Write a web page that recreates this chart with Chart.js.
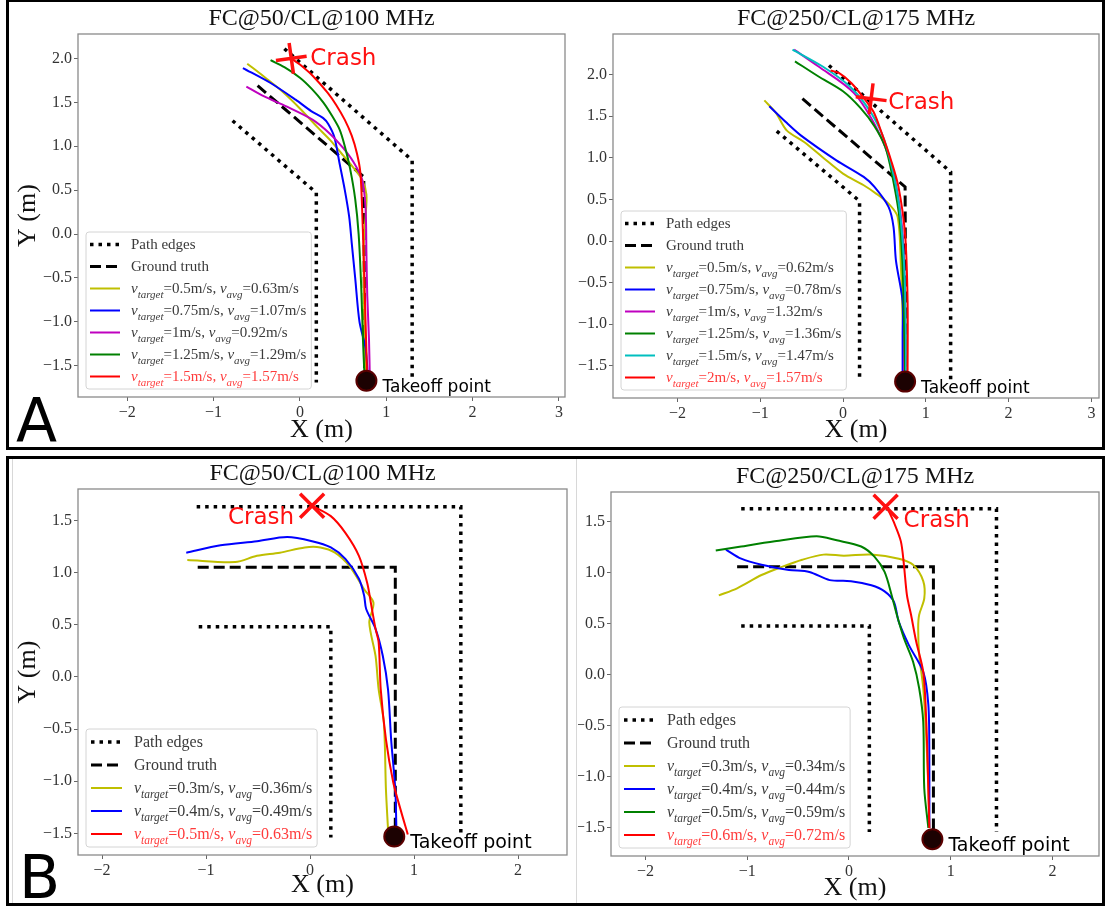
<!DOCTYPE html>
<html>
<head>
<meta charset="utf-8">
<script src="https://cdn.jsdelivr.net/npm/chart.js@4.4.0/dist/chart.umd.min.js"></script>
<style>
  body { margin: 0; background: #fff; width: 1105px; height: 909px; position: relative; overflow: hidden; }
  .frame { position: absolute; border: 3px solid #000; box-sizing: border-box; }
  .plot { position: absolute; }
  .letter { position: absolute; font: 60px "DejaVu Sans", sans-serif; line-height: 1; color: #000; }
  .sep { position: absolute; width: 1px; background: #d8d8d8; }
</style>
</head>
<body>
<div class="frame" style="left:6px;top:-1px;width:1099px;height:451px"></div>
<div class="frame" style="left:6px;top:456px;width:1099px;height:450px"></div>
<div class="sep" style="left:576px;top:459px;height:444px"></div>
<div class="sep" style="left:12px;top:459px;height:444px"></div>

<div class="plot" style="left:10px;top:3px;width:560px;height:445px"><canvas id="aLeft"></canvas></div>
<div class="plot" style="left:578px;top:3px;width:524px;height:445px"><canvas id="aRight"></canvas></div>
<div class="plot" style="left:10px;top:460px;width:565px;height:445px"><canvas id="bLeft"></canvas></div>
<div class="plot" style="left:578px;top:460px;width:524px;height:445px"><canvas id="bRight"></canvas></div>

<div class="letter" style="left:16px;top:390px">A</div>
<div class="letter" style="left:19px;top:847px">B</div>

<script>
// ---------- panel A, left: FC@50/CL@100 MHz ----------
const aLeftXTicks = [-2, -1, 0, 1, 2, 3];
const aLeftYTicks = [-1.5, -1, -0.5, 0, 0.5, 1, 1.5, 2];
const aLeftEdgeInner = [[-0.78, 1.29], [0.19, 0.47], [0.19, -1.69]];
const aLeftEdgeOuter = [[-0.18, 2.11], [1.30, 0.84], [1.30, -1.67]];
const aLeftTruth = [[-0.49, 1.69], [0.74, 0.65], [0.75, -1.68]];
const aLeftTargets = ['0.5', '0.75', '1', '1.25', '1.5'];
const aLeftAvgs = ['0.63', '1.07', '0.92', '1.29', '1.57'];
const aLeftRun1 = [[0.76, -1.66], [0.75, -1.2], [0.74, -0.6], [0.74, -0.1], [0.76, 0.2], [0.77, 0.45], [0.72, 0.62], [0.6, 0.78], [0.48, 0.92], [0.35, 1.07], [0.2, 1.22], [0.0, 1.43], [-0.2, 1.62], [-0.4, 1.78], [-0.61, 1.94]];
const aLeftRun2 = [[0.79, -1.66], [0.76, -1.3], [0.69, -1.0], [0.64, -0.5], [0.6, -0.1], [0.57, 0.2], [0.52, 0.5], [0.46, 0.8], [0.4, 1.1], [0.33, 1.25], [0.27, 1.32], [0.13, 1.4], [-0.05, 1.53], [-0.34, 1.72], [-0.66, 1.89]];
const aLeftRun3 = [[0.81, -1.66], [0.8, -1.2], [0.78, -0.7], [0.77, -0.2], [0.76, 0.3], [0.72, 0.62], [0.62, 0.82], [0.5, 0.98], [0.35, 1.14], [0.15, 1.3], [-0.15, 1.45], [-0.42, 1.57], [-0.62, 1.68]];
const aLeftRun4 = [[0.75, -1.66], [0.73, -1.2], [0.71, -0.6], [0.68, 0.0], [0.64, 0.4], [0.58, 0.75], [0.52, 1.0], [0.46, 1.19], [0.37, 1.35], [0.27, 1.5], [0.14, 1.65], [0.0, 1.78], [-0.18, 1.9], [-0.34, 1.98]];
const aLeftRun5 = [[0.78, -1.66], [0.76, -1.0], [0.74, -0.3], [0.72, 0.3], [0.7, 0.7], [0.66, 0.92], [0.6, 1.12], [0.52, 1.3], [0.42, 1.47], [0.32, 1.61], [0.15, 1.8], [0.0, 1.93], [-0.1, 2.0]];
const aLeftCrash = [-0.1, 2.0];
const aLeftTakeoff = [0.77, -1.67];

// ---------- panel A, right: FC@250/CL@175 MHz ----------
const aRightXTicks = [-2, -1, 0, 1, 2, 3];
const aRightYTicks = [-1.5, -1, -0.5, 0, 0.5, 1, 1.5, 2];
const aRightEdgeInner = [[-0.80, 1.32], [0.20, 0.48], [0.20, -1.69]];
const aRightEdgeOuter = [[-0.17, 2.11], [1.30, 0.83], [1.30, -1.67]];
const aRightTruth = [[-0.49, 1.71], [0.75, 0.65], [0.76, -1.69]];
const aRightTargets = ['0.5', '0.75', '1', '1.25', '1.5', '2'];
const aRightAvgs = ['0.62', '0.78', '1.32', '1.36', '1.47', '1.57'];
const aRightRun1 = [[0.74, -1.61], [0.72, -0.92], [0.70, -0.32], [0.66, 0.29], [0.55, 0.45], [0.40, 0.57], [0.25, 0.67], [0.00, 0.81], [-0.25, 1.01], [-0.47, 1.19], [-0.68, 1.33], [-0.81, 1.54], [-0.95, 1.69]];
const aRightRun2 = [[0.72, -1.61], [0.72, -1.12], [0.72, -0.72], [0.64, -0.24], [0.61, 0.17], [0.55, 0.41], [0.38, 0.65], [0.25, 0.77], [-0.08, 0.97], [-0.51, 1.27], [-0.68, 1.42], [-0.89, 1.62]];
const aRightRun3 = [[0.74, -1.61], [0.74, -1.12], [0.74, -0.32], [0.70, 0.29], [0.59, 0.89], [0.42, 1.33], [0.13, 1.78], [-0.30, 2.10], [-0.59, 2.30]];
const aRightRun4 = [[0.75, -1.61], [0.74, -1.12], [0.72, -0.32], [0.68, 0.29], [0.59, 0.81], [0.51, 1.13], [0.38, 1.38], [0.21, 1.60], [0.00, 1.80], [-0.30, 1.98], [-0.58, 2.16]];
const aRightRun5 = [[0.76, -1.61], [0.76, -1.12], [0.74, -0.32], [0.68, 0.41], [0.59, 0.89], [0.47, 1.29], [0.30, 1.60], [0.08, 1.86], [-0.25, 2.10], [-0.61, 2.30]];
const aRightRun6 = [[0.78, -1.61], [0.78, -0.72], [0.75, 0.08], [0.67, 0.65], [0.58, 0.97], [0.47, 1.29], [0.37, 1.55], [0.25, 1.72], [0.10, 1.90], [-0.05, 2.02], [-0.15, 2.05]];
const aRightCrash = [0.34, 1.71];
const aRightTakeoff = [0.75, -1.69];

// ---------- panel B, left: FC@50/CL@100 MHz ----------
const bLeftXTicks = [-2, -1, 0, 1, 2];
const bLeftYTicks = [-1.5, -1, -0.5, 0, 0.5, 1, 1.5];
const bLeftEdgeOuter = [[-1.09, 1.63], [1.45, 1.63], [1.45, -1.50]];
const bLeftEdgeInner = [[-1.07, 0.48], [0.20, 0.48], [0.20, -1.54]];
const bLeftTruth = [[-1.08, 1.05], [0.82, 1.05], [0.82, -1.50]];
const bLeftTargets = ['0.3', '0.4', '0.5'];
const bLeftAvgs = ['0.36', '0.49', '0.63'];
const bLeftRun1 = [[0.75, -1.46], [0.73, -1.08], [0.71, -0.44], [0.66, -0.12], [0.63, 0.20], [0.57, 0.52], [0.61, 0.71], [0.52, 0.84], [0.38, 1.06], [0.24, 1.19], [0.10, 1.24], [-0.05, 1.24], [-0.29, 1.19], [-0.51, 1.16], [-0.72, 1.10], [-1.18, 1.12]];
const bLeftRun2 = [[0.83, -1.43], [0.82, -1.08], [0.78, -0.60], [0.75, -0.12], [0.70, 0.20], [0.63, 0.46], [0.54, 0.65], [0.52, 0.78], [0.47, 0.94], [0.34, 1.13], [0.20, 1.24], [0.02, 1.30], [-0.22, 1.34], [-0.51, 1.30], [-0.86, 1.26], [-1.19, 1.19]];
const bLeftRun3 = [[0.94, -1.51], [0.87, -1.27], [0.80, -1.01], [0.73, -0.60], [0.68, -0.12], [0.66, 0.33], [0.63, 0.46], [0.59, 0.68], [0.55, 0.90], [0.47, 1.16], [0.34, 1.38], [0.20, 1.54], [0.02, 1.64]];
const bLeftCrash = [0.02, 1.64];
const bLeftTakeoff = [0.81, -1.53];

// ---------- panel B, right: FC@250/CL@175 MHz ----------
const bRightXTicks = [-2, -1, 0, 1, 2];
const bRightYTicks = [-1.5, -1, -0.5, 0, 0.5, 1, 1.5];
const bRightEdgeOuter = [[-1.06, 1.63], [1.45, 1.63], [1.45, -1.54]];
const bRightEdgeInner = [[-1.06, 0.48], [0.20, 0.48], [0.20, -1.54]];
const bRightTruth = [[-1.10, 1.06], [0.83, 1.06], [0.83, -1.55]];
const bRightTargets = ['0.3', '0.4', '0.5', '0.6'];
const bRightAvgs = ['0.34', '0.44', '0.59', '0.72'];
const bRightRun1 = [[0.79, -1.50], [0.78, -1.11], [0.76, -0.62], [0.73, -0.13], [0.69, 0.20], [0.68, 0.46], [0.69, 0.59], [0.74, 0.75], [0.73, 0.92], [0.63, 1.08], [0.49, 1.14], [0.22, 1.18], [-0.05, 1.17], [-0.25, 1.18], [-0.46, 1.13], [-0.66, 1.06], [-0.86, 0.98], [-1.10, 0.85], [-1.28, 0.78]];
const bRightRun2 = [[0.79, -1.50], [0.79, -0.78], [0.78, -0.29], [0.73, 0.03], [0.59, 0.29], [0.49, 0.52], [0.44, 0.72], [0.35, 0.82], [0.22, 0.88], [0.02, 0.92], [-0.19, 0.93], [-0.39, 1.01], [-0.59, 1.03], [-0.86, 1.08], [-1.06, 1.14], [-1.21, 1.23]];
const bRightRun3 = [[0.78, -1.50], [0.74, -1.11], [0.73, -0.46], [0.69, -0.13], [0.63, 0.13], [0.54, 0.36], [0.47, 0.59], [0.42, 0.78], [0.35, 1.01], [0.25, 1.16], [0.12, 1.26], [-0.12, 1.32], [-0.32, 1.36], [-0.73, 1.31], [-1.06, 1.26], [-1.31, 1.22]];
const bRightRun4 = [[0.79, -1.50], [0.78, -1.11], [0.76, -0.46], [0.73, 0.03], [0.66, 0.33], [0.61, 0.59], [0.57, 0.78], [0.54, 1.08], [0.51, 1.31], [0.44, 1.50], [0.38, 1.63]];
const bRightCrash = [0.36, 1.65];
const bRightTakeoff = [0.82, -1.61];

const SERIF = '"Liberation Serif", "DejaVu Serif", serif';
const SANS = '"DejaVu Sans", sans-serif';

function pts(list) { return list.map(p => ({ x: p[0], y: p[1] })); }
function joinPaths(a, b) { return pts(a).concat([{ x: null, y: null }], pts(b)); }
function fmt(v, dec) {
  const s = Math.abs(v).toFixed(dec);
  return (v < 0 ? '\u2212' : '') + s;
}

// grey box round the plot area, like matplotlib spines
const frameBox = {
  id: 'frameBox',
  afterDraw(chart) {
    const { ctx, chartArea: a } = chart;
    ctx.save();
    ctx.strokeStyle = '#8a8a8a';
    ctx.lineWidth = 1.3;
    ctx.strokeRect(a.left, a.top, a.right - a.left, a.bottom - a.top);
    ctx.restore();
  }
};

// title centred over the plot area
const areaTitle = {
  id: 'areaTitle',
  afterDraw(chart, args, opts) {
    const { ctx, chartArea: a } = chart;
    ctx.save();
    ctx.font = '24px ' + SERIF;
    ctx.fillStyle = '#111';
    ctx.textAlign = 'center';
    ctx.textBaseline = 'middle';
    ctx.fillText(opts.text, (a.left + a.right) / 2, a.top - opts.gap);
    ctx.restore();
  }
};

// "Crash" / "Takeoff point" notes next to the marker points
const pointNotes = {
  id: 'pointNotes',
  afterDatasetsDraw(chart) {
    const ctx = chart.ctx;
    chart.data.datasets.forEach((ds, i) => {
      if (!ds.note) return;
      const el = chart.getDatasetMeta(i).data[0];
      ctx.save();
      ctx.font = ds.note.size + 'px ' + SANS;
      ctx.fillStyle = ds.note.color;
      ctx.textAlign = ds.note.align;
      ctx.textBaseline = 'middle';
      ctx.fillText(ds.note.text, el.x + ds.note.dx, el.y + ds.note.dy);
      ctx.restore();
    });
  }
};

function rowParts(d, fs, ss) {
  const rm = fs + 'px ' + SERIF;
  if (d.vt === undefined) return [{ t: d.label, font: rm, dy: 0 }];
  const it = 'italic ' + fs + 'px ' + SERIF;
  const sub = 'italic ' + ss + 'px ' + SERIF;
  const low = fs * 0.3;
  return [
    { t: 'v', font: it, dy: 0 }, { t: 'target', font: sub, dy: low },
    { t: '=' + d.vt + 'm/s, ', font: rm, dy: 0 },
    { t: 'v', font: it, dy: 0 }, { t: 'avg', font: sub, dy: low },
    { t: '=' + d.va + 'm/s', font: rm, dy: 0 }
  ];
}

// legend box in the lower-left corner of the plot area
const boxLegend = {
  id: 'boxLegend',
  afterDatasetsDraw(chart, args, o) {
    const { ctx, chartArea: a } = chart;
    const rows = chart.data.datasets.filter(d => d.label);
    ctx.save();
    const widths = rows.map(d => rowParts(d, o.fontSize, o.subSize).reduce((w, p) => {
      ctx.font = p.font; return w + ctx.measureText(p.t).width;
    }, 0));
    const w = o.textX + Math.max(...widths) + o.padR;
    const h = rows.length * o.rowH + 3;
    const x0 = a.left + o.gap, y0 = a.bottom - o.gap - h;
    ctx.fillStyle = 'rgba(255,255,255,0.9)';
    ctx.strokeStyle = '#d4d4d4';
    ctx.lineWidth = 1;
    ctx.beginPath();
    ctx.roundRect(x0, y0, w, h, 3);
    ctx.fill();
    ctx.stroke();
    rows.forEach((d, k) => {
      const cy = y0 + 1.5 + o.rowH * (k + 0.5);
      ctx.save();
      ctx.setLineDash(d.borderDash || []);
      ctx.lineCap = 'butt';
      ctx.lineWidth = d.borderWidth;
      ctx.strokeStyle = d.borderColor;
      ctx.beginPath();
      ctx.moveTo(x0 + o.lineX0, cy);
      ctx.lineTo(x0 + o.lineX1, cy);
      ctx.stroke();
      ctx.restore();
      let x = x0 + o.textX;
      ctx.fillStyle = d.textColor || '#3a3a3a';
      ctx.textBaseline = 'alphabetic';
      ctx.textAlign = 'left';
      rowParts(d, o.fontSize, o.subSize).forEach(p => {
        ctx.font = p.font;
        ctx.fillText(p.t, x, cy + o.fontSize * 0.33 + p.dy);
        x += ctx.measureText(p.t).width;
      });
    });
    ctx.restore();
  }
};

function makeChart(id, s) {
  const datasets = [];
  datasets.push({
    label: 'Path edges', data: joinPaths(s.edges[0], s.edges[1]), showLine: true, spanGaps: false,
    borderColor: '#000', borderWidth: 3.5, borderDash: [3.5, 5], borderCapStyle: 'butt',
    pointRadius: 0, tension: 0, order: 30
  });
  datasets.push({
    label: 'Ground truth', data: pts(s.truth), showLine: true,
    borderColor: '#000', borderWidth: 3, borderDash: [11, 5], borderCapStyle: 'butt',
    pointRadius: 0, tension: 0, order: 29
  });
  s.runs.forEach((run, k) => {
    datasets.push({
      label: 'run', vt: s.targets[k], va: s.avgs[k],
      textColor: k === s.runs.length - 1 ? '#ff3b3b' : '#3a3a3a',
      data: pts(run), showLine: true, borderColor: s.colors[k], borderWidth: 2,
      pointRadius: 0, tension: 0.3, order: 20 - k
    });
  });
  datasets.push({
    data: pts([s.crash]), showLine: false, pointStyle: s.crashStyle, pointRadius: s.crashR,
    pointRotation: s.crashRot, pointBorderWidth: 3.5, pointBorderColor: '#ff1010',
    pointBackgroundColor: '#ff1010', order: 1,
    note: { text: 'Crash', size: 23, color: '#ff1010', dx: s.crashDx, dy: s.crashDy, align: s.crashAlign }
  });
  datasets.push({
    data: pts([s.takeoff]), showLine: false, pointStyle: 'circle', pointRadius: 10,
    pointBorderWidth: 2, pointBorderColor: '#5a0000', pointBackgroundColor: '#1c0202', order: 0,
    note: { text: 'Takeoff point', size: s.takeoffSize, color: '#000', dx: 16, dy: 7, align: 'left' }
  });

  new Chart(document.getElementById(id), {
    type: 'scatter',
    data: { datasets },
    plugins: [frameBox, areaTitle, boxLegend, pointNotes],
    options: {
      responsive: true, maintainAspectRatio: false, animation: false, events: [],
      layout: { autoPadding: false, padding: { left: 0, right: s.padRight, top: s.padTop, bottom: 0 } },
      plugins: {
        legend: { display: false },
        tooltip: { enabled: false },
        areaTitle: { text: s.title, gap: s.titleGap },
        boxLegend: s.legend
      },
      scales: {
        x: {
          type: 'linear', min: s.xRange[0], max: s.xRange[1],
          afterBuildTicks: sc => { sc.ticks = s.xTicks.map(v => ({ value: v })); },
          afterFit: sc => { sc.height = s.xAxisH; sc.paddingLeft = 0; sc.paddingRight = 0; },
          grid: { drawOnChartArea: false, drawTicks: true, tickLength: 4, color: '#666' },
          border: { display: false },
          ticks: { autoSkip: false, maxRotation: 0, padding: 2, color: '#333',
            font: { family: SERIF, size: 16 }, callback: v => fmt(v, 0) },
          title: { display: true, text: 'X (m)', color: '#111',
            font: { family: SERIF, size: 26, lineHeight: 1 }, padding: { top: 0, bottom: s.xTitlePad } }
        },
        y: {
          type: 'linear', min: s.yRange[0], max: s.yRange[1],
          afterBuildTicks: sc => { sc.ticks = s.yTicks.map(v => ({ value: v })); },
          afterFit: sc => { sc.width = s.yAxisW; },
          grid: { drawOnChartArea: false, drawTicks: true, tickLength: 4, color: '#666' },
          border: { display: false },
          ticks: { autoSkip: false, padding: 2, color: '#333',
            font: { family: SERIF, size: 16 }, callback: v => fmt(v, 1) },
          title: { display: s.yTitle, text: 'Y (m)', color: '#111',
            font: { family: SERIF, size: 26, lineHeight: 1 }, padding: { top: 5, bottom: 0 } }
        }
      }
    }
  });
}

const colorsA = ['#bfbf00', '#0000ff', '#bf00bf', '#008000', '#00bfbf', '#ff0000'];
const legendA = { fontSize: 15, subSize: 11, rowH: 22, gap: 8, lineX0: 4, lineX1: 34, textX: 45, padR: 5 };
const legendB = { fontSize: 16, subSize: 11.5, rowH: 23, gap: 8, lineX0: 5, lineX1: 36, textX: 48, padR: 5 };

makeChart('aLeft', {
  title: 'FC@50/CL@100 MHz', titleGap: 15, padTop: 31, padRight: 5, yAxisW: 68, xAxisH: 51, xTitlePad: 5, yTitle: true,
  xRange: [-2.57, 3.07], yRange: [-1.856, 2.278], xTicks: aLeftXTicks, yTicks: aLeftYTicks,
  edges: [aLeftEdgeInner, aLeftEdgeOuter], truth: aLeftTruth,
  runs: [aLeftRun1, aLeftRun2, aLeftRun3, aLeftRun4, aLeftRun5], targets: aLeftTargets, avgs: aLeftAvgs,
  colors: ['#bfbf00', '#0000ff', '#bf00bf', '#008000', '#ff0000'],
  crash: aLeftCrash, crashStyle: 'cross', crashR: 15.5, crashRot: -8, crashDx: 19, crashDy: 1, crashAlign: 'left',
  takeoff: aLeftTakeoff, takeoffSize: 17, legend: legendA
});

makeChart('aRight', {
  title: 'FC@250/CL@175 MHz', titleGap: 15, padTop: 31, padRight: 3, yAxisW: 35, xAxisH: 50, xTitlePad: 5, yTitle: false,
  xRange: [-2.778, 3.092], yRange: [-1.887, 2.488], xTicks: aRightXTicks, yTicks: aRightYTicks,
  edges: [aRightEdgeInner, aRightEdgeOuter], truth: aRightTruth,
  runs: [aRightRun1, aRightRun2, aRightRun3, aRightRun4, aRightRun5, aRightRun6], targets: aRightTargets, avgs: aRightAvgs,
  colors: colorsA,
  crash: aRightCrash, crashStyle: 'cross', crashR: 15.5, crashRot: 7, crashDx: 17, crashDy: 4, crashAlign: 'left',
  takeoff: aRightTakeoff, takeoffSize: 17, legend: legendA
});

makeChart('bLeft', {
  title: 'FC@50/CL@100 MHz', titleGap: 15, padTop: 29, padRight: 8, yAxisW: 68, xAxisH: 50, xTitlePad: 7, yTitle: true,
  xRange: [-2.231, 2.471], yRange: [-1.707, 1.80], xTicks: bLeftXTicks, yTicks: bLeftYTicks,
  edges: [bLeftEdgeOuter, bLeftEdgeInner], truth: bLeftTruth,
  runs: [bLeftRun1, bLeftRun2, bLeftRun3], targets: bLeftTargets, avgs: bLeftAvgs,
  colors: ['#bfbf00', '#0000ff', '#ff0000'],
  crash: bLeftCrash, crashStyle: 'crossRot', crashR: 17, crashRot: 0, crashDx: -18, crashDy: 12, crashAlign: 'right',
  takeoff: bLeftTakeoff, takeoffSize: 19, legend: legendB
});

makeChart('bRight', {
  title: 'FC@250/CL@175 MHz', titleGap: 15.5, padTop: 32, padRight: 3, yAxisW: 33, xAxisH: 49, xTitlePad: 4, yTitle: false,
  xRange: [-2.34, 2.458], yRange: [-1.775, 1.794], xTicks: bRightXTicks, yTicks: bRightYTicks,
  edges: [bRightEdgeOuter, bRightEdgeInner], truth: bRightTruth,
  runs: [bRightRun1, bRightRun2, bRightRun3, bRightRun4], targets: bRightTargets, avgs: bRightAvgs,
  colors: ['#bfbf00', '#0000ff', '#008000', '#ff0000'],
  crash: bRightCrash, crashStyle: 'crossRot', crashR: 17, crashRot: 0, crashDx: 18, crashDy: 14, crashAlign: 'left',
  takeoff: bRightTakeoff, takeoffSize: 19, legend: legendB
});
</script>
</body>
</html>
